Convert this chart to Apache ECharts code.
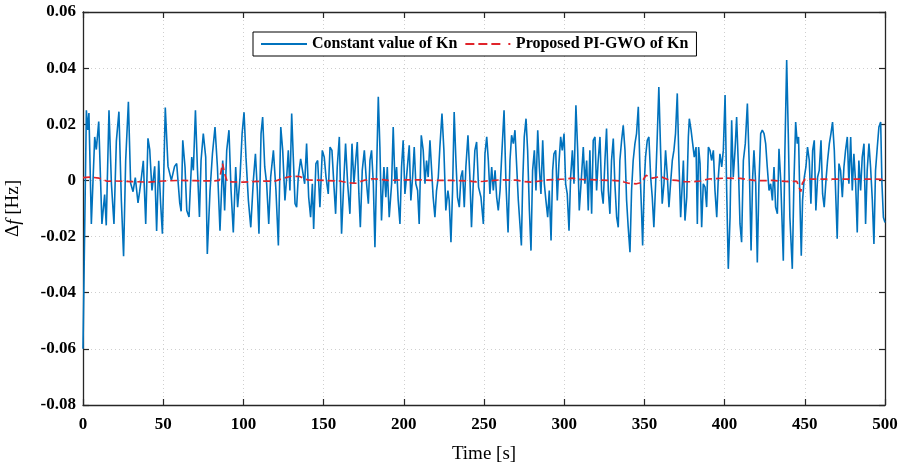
<!DOCTYPE html>
<html><head><meta charset="utf-8">
<script src="https://cdn.jsdelivr.net/npm/echarts@6/dist/echarts.min.js"></script>
<style>html,body{margin:0;padding:0;background:#fff}#c{width:904px;height:468px}</style>
</head><body><div id="c"></div>
<script>
// Constant value of Kn  (time [s], delta f [Hz])
const blueTime = [0,2.1,3.0,3.7,5.2,7.3,8.3,9.8,11.8,13.5,14.5,16.2,17.7,19.3,20.8,22.4,23.9,25.3,26.6,28.3,29.7,31.2,32.6,34.3,35.3,36.4,37.6,39.1,40.5,41.6,43,44.7,45.9,47.2,48.4,49.5,51.3,53,55.1,57.1,58.4,60.3,61.2,62.2,63.6,64.7,66.1,67.8,68.8,70.1,71.3,72.6,73.6,75.0,76.5,77.5,79.2,80.7,82.3,83.8,85.4,87.1,88.3,89.6,91.0,92.3,93.7,95.2,96.4,97.9,99.2,100.4,101.6,103.1,104.6,106.2,107.5,108.7,109.7,111.0,112.0,113.3,114.5,115.8,117.0,118.7,120.3,121.8,123.3,124.5,125.9,127.0,128.0,129.0,130.1,131.1,132.2,133.2,134.2,135.7,136.9,138.2,139.4,140.7,141.9,143.0,143.8,145.2,146.3,147.7,149.2,150.4,151.5,152.9,154.0,155.2,156.5,157.5,158.5,159.8,161.2,162.7,163.7,165.0,166.4,167.7,168.9,170.0,171.0,172.0,172.9,174.1,175.4,176.8,177.9,178.9,179.9,181.0,182.0,183.1,184.1,185.1,186.1,187.6,188.8,189.7,190.9,192.4,193.4,194.5,195.5,196.5,197.6,198.6,199.6,200.7,201.7,203.4,204.4,205.5,206.5,207.5,208.6,209.6,210.9,212.1,213.2,214.2,215.2,216.3,217.3,218.3,219.4,220.4,221.5,222.5,223.8,225.0,226.2,227.5,228.3,229.4,230.4,231.4,232.5,233.5,234.6,235.6,236.6,237.7,238.7,240.0,241.2,242.2,243.3,244.3,245.4,246.6,248.1,249.6,250.6,251.7,252.7,253.7,254.8,255.8,256.9,257.9,258.9,260.0,261.0,262.5,263.7,265.0,266.2,267.2,268.3,269.3,270.4,271.4,272.4,273.3,274.1,275.1,276.2,277.2,278.3,279.3,280.3,281.4,282.4,283.5,284.5,285.5,286.6,287.6,288.6,289.7,290.7,291.8,292.8,293.6,294.7,295.7,296.7,297.8,298.8,299.9,300.9,301.9,303.0,304.0,305.1,306.1,307.3,308.4,309.4,310.5,311.9,312.9,314.0,315.0,316.0,317.1,318.1,319.2,320.2,321.2,322.3,323.3,324.3,325.4,326.4,327.5,328.5,329.5,330.6,331.6,332.7,333.7,334.7,335.8,336.8,337.9,338.9,339.9,341.0,342.0,343.0,344.1,345.1,346.2,347.2,348.2,348.9,349.9,350.7,351.8,352.8,353.9,354.9,355.9,357.0,358.0,359.0,360.1,361.1,362.2,363.2,364.2,365.3,366.3,367.4,368.4,369.4,370.5,371.5,372.6,374.3,375.3,376.4,377.4,378.0,379.1,380.1,381.1,382.2,383.0,383.8,384.7,385.7,386.7,387.8,388.8,389.9,390.9,391.9,393.0,394.0,395.1,396.1,397.1,398.2,399.2,400.3,401.3,402.3,403.4,404.4,405.4,406.5,407.5,408.6,409.6,410.6,411.7,412.9,414.2,415.4,416.5,417.5,418.3,419.4,420.4,421.4,422.5,423.5,424.6,425.6,426.6,427.7,428.7,429.8,430.8,431.8,432.9,433.9,435.0,436.6,437.6,438.7,439.7,440.7,442.2,443.2,444.3,445.3,446.1,447.0,447.8,448.6,449.7,450.7,451.7,452.8,453.8,454.9,455.9,456.9,458.0,459.0,460.1,461.1,462.1,463.2,464.2,465.3,466.3,467.3,468.4,469.4,470.2,471.3,472.3,473.4,474.4,475.4,476.5,477.5,478.6,479.6,480.6,481.7,482.7,483.7,484.8,485.8,486.9,487.9,488.9,490.0,491.0,492.1,493.1,494.1,495.2,496.2,497.3,498.1,499.0,500];
const blueValue = [-0.060,0.025,0.018,0.024,-0.0155,0.0155,0.011,0.021,-0.0155,-0.005,-0.016,0.025,-0.001,-0.0155,0.014,0.0245,-0.007,-0.027,0.007,0.028,-0.001,-0.004,0.001,-0.008,-0.004,0.001,0.007,-0.0155,0.015,0.011,-0.0036,0.005,-0.018,0.007,-0.0083,-0.019,0.026,0.005,0,0.005,0.006,-0.008,-0.011,0.0143,0.0048,-0.0107,-0.013,0.0083,0.0036,0.025,0.0048,-0.013,0.0071,0.0167,0.0083,-0.0262,-0.0036,0.0095,0.019,0.0048,-0.0179,0.0071,-0.0107,0.0107,0.0179,-0.0036,-0.0185,0.0048,-0.0095,0.0012,0.0167,0.0243,0.0083,-0.0071,-0.0167,0,0.0095,-0.0036,-0.019,0.0167,0.0226,0.0048,-0.0012,-0.0155,0.0012,0.0107,-0.0036,-0.0232,0.019,0.0107,-0.0071,0.0012,0.0107,-0.0036,0.0238,0.0083,-0.0083,-0.0095,0.0012,0.0077,0.0071,-0.0012,0.0131,-0.006,-0.0131,-0.0012,-0.0173,0.006,0.0071,-0.0095,0.0107,0.0083,0.0012,-0.0048,0.0119,0.0107,-0.0024,-0.0119,0.0048,0.0155,-0.019,0.0012,0.0131,-0.0012,-0.0119,0.0131,-0.0012,0.0071,0.0137,-0.0048,-0.0167,0.0036,0.0107,-0.0012,-0.0083,0.0071,0.0107,-0.0012,-0.0238,0.0048,0.0298,0.0119,-0.0143,0.0048,-0.006,0.0048,-0.0131,-0.0012,0.019,-0.0012,0.0048,-0.0071,-0.0155,0.0048,0.0143,-0.0048,0.0012,0.0125,-0.0071,0.0012,0.0119,-0.0012,-0.0036,-0.0155,0.0161,0.0107,-0.0012,0.0071,0.0012,0.0143,0.0149,-0.006,-0.0131,-0.0036,0.0012,0.0119,0.0238,0.0107,-0.0107,-0.0036,-0.0071,-0.022,-0.0036,0.0244,0.0071,-0.006,-0.0095,0.0012,0.0036,-0.0095,0.0048,0.0161,0.0012,-0.0167,-0.0012,0.0107,0.0137,-0.0024,-0.006,-0.0155,0.0095,0.0155,0.0071,-0.0048,0.0048,-0.0036,0.0036,-0.006,-0.0107,-0.0036,0.0083,0.025,-0.0012,-0.0185,0.0071,0.0161,0.0131,0.0179,0.0048,-0.0071,-0.0155,-0.0232,-0.0012,0.0155,0.022,0.0107,-0.0107,-0.025,0.0036,0.0107,-0.0036,0.0179,0.0048,-0.0048,0.0143,-0.0012,-0.0071,-0.0131,-0.0036,-0.0214,0.0036,0.0095,0.0107,-0.0071,0.006,0.0155,0.0107,0.0167,-0.0012,-0.0048,-0.0179,0.0012,0.0107,-0.0012,0.0268,0.0107,-0.0107,-0.0012,0.0119,-0.0012,0.0071,-0.0107,0.0107,-0.0119,0.0143,0.0155,-0.0036,0.0071,0.0155,-0.0036,-0.0083,0.0071,0.0185,-0.0036,-0.0119,0.0071,0.0149,-0.0012,-0.0131,-0.0167,0.0071,0.0143,0.0196,0.0107,-0.0071,-0.0167,-0.0256,-0.0036,0.0071,0.0131,0.0167,0.0262,0.0048,-0.0107,-0.0232,-0.0012,0.0083,0.0143,0.0155,0.0012,-0.006,-0.0167,-0.0012,0.0155,0.0333,0.0107,-0.0083,-0.0012,0.0107,0.0024,-0.0095,-0.0012,0.0071,0.0107,0.0167,0.031,0.0071,-0.0131,0.0071,-0.0143,-0.006,0.0155,0.022,0.0179,0.0185,0.0083,0.0119,-0.0155,0.0119,0.006,-0.0167,-0.0012,-0.0024,-0.0095,0.0119,0.0107,0.0071,0.0107,-0.0036,-0.0131,0.0012,0.0095,0.0048,0.0107,0.0304,-0.0036,-0.0315,-0.0131,0.0214,0.0012,0.0107,0.0226,0.0048,-0.0155,-0.022,0.0071,0.0131,0.0274,0.0048,-0.025,0.0012,0.0107,-0.0012,-0.0292,-0.0012,0.0167,0.0179,0.0167,0.0131,0.0048,-0.0036,-0.0012,-0.0071,0.0048,-0.0095,-0.0119,0.0113,0,-0.0286,0.0107,0.0429,0.0167,-0.0131,-0.0315,-0.0012,0.0208,0.0131,0.0155,-0.0083,-0.0268,-0.0071,0.0012,0.0048,0.0119,0.0071,-0.0083,0.0107,0.0143,-0.0107,0.0012,0.0036,0.0143,-0.0048,-0.0095,0,0.0071,0.0131,0.0167,0.0208,0.0107,-0.0071,-0.0208,0.006,0.0036,-0.006,0.0048,0.0107,0.0155,-0.0012,0.0155,-0.0036,0.0095,-0.0012,-0.0185,0.0071,-0.0036,0.0083,0.0131,-0.0155,0.0036,0.0131,0.0048,-0.0071,-0.0226,0.0036,0.0119,0.019,0.0208,-0.0012,-0.0131,-0.015];

// Proposed PI-GWO of Kn
const redTime = [0,5,10,15,20,30,40,50,60,70,80,85,87,88.5,90,100,110,120,125,130,135,140,150,160,165,170,175,180,185,190,200,210,220,230,240,245,250,260,270,275,280,285,290,300,305,310,320,330,335,340,345,348,351,355,360,365,370,375,380,385,390,400,410,415,420,430,440,445,447.5,448.5,450,460,480,500];
const redValue = [0.001,0.0012,0.0008,-0.0003,-0.0002,-0.0004,-0.0006,-0.0002,0,-0.0001,-0.0002,0,0.006,0.002,-0.0005,-0.0006,-0.0003,-0.0002,0.0008,0.0015,0.0014,0.0002,0,-0.0002,-0.0008,-0.001,0,0.0006,0.0004,0,0.0002,0.0002,0,0,-0.0002,-0.0005,-0.0003,0.0002,0.0001,-0.0004,-0.0006,-0.0002,0.0002,0.0005,0.0008,0.0004,0.0002,0,-0.0002,-0.001,-0.0012,-0.0008,0.0018,0.0008,0.0014,0.0002,0,-0.0004,-0.0005,-0.0002,0.0005,0.0008,0.0007,0.0003,-0.0001,0,-0.0004,-0.0003,-0.004,-0.001,0.0004,0.0005,0.0005,0.0004];

const seriesNames = ['Constant value of Kn', 'Proposed PI-GWO of Kn'];
const xTicks = [0,50,100,150,200,250,300,350,400,450,500];
const yTickLabels = ['-0.08','-0.06','-0.04','-0.02','0','0.02','0.04','0.06'];

const blueData = blueTime.map((t, i) => [t, blueValue[i]]);
const redData = redTime.map((t, i) => [t, redValue[i]]);

const FONT = '"Liberation Serif", "Times New Roman", serif';
const AX = '#262626';
const BLUE = '#0072BD', RED = '#e0242a';
const yMin = parseFloat(yTickLabels[0]), yMax = parseFloat(yTickLabels[yTickLabels.length - 1]);
const yStep = parseFloat(yTickLabels[1]) - yMin;
const yLabel = v => { const f = yTickLabels.find(s => Math.abs(parseFloat(s) - v) < 1e-9); return f || ''; };

const chart = echarts.init(document.getElementById('c'), null, { renderer: 'canvas' });
const lineAx = { show: true, onZero: false, lineStyle: { color: AX, width: 1.3 } };
const tickAx = { show: true, inside: true, length: 6, lineStyle: { color: AX, width: 1.2 } };
const gridLine = { show: true, lineStyle: { color: '#cfcfcf', type: [1, 3], width: 1 } };
const frameAxis = { axisLine: lineAx, axisTick: tickAx, axisLabel: { show: false }, splitLine: { show: false } };
chart.setOption({
  animation: false,
  backgroundColor: '#fff',
  grid: { left: 83, right: 19, top: 12, bottom: 63, containLabel: false, outerBoundsMode: 'none' },
  legend: {
    left: 253, top: 32,
    itemWidth: 46, itemHeight: 2, itemGap: 8,
    padding: [4, 8, 4, 8],
    borderColor: '#000', borderWidth: 1, backgroundColor: '#fff',
    textStyle: { fontFamily: FONT, fontWeight: 'bold', fontSize: 16, color: '#000' },
    data: [
      { name: seriesNames[0], icon: 'path://M0,0H46V2H0Z' },
      { name: seriesNames[1], icon: 'path://M0,0H9V2H0Z M13,0H22V2H13Z M26,0H35V2H26Z M43,0H45V2H43Z' }
    ]
  },
  xAxis: [{
    type: 'value', min: xTicks[0], max: xTicks[xTicks.length - 1], interval: xTicks[1] - xTicks[0],
    name: 'Time [s]', nameLocation: 'middle', nameGap: 40,
    nameTextStyle: { fontFamily: FONT, fontSize: 19, color: '#000' },
    axisLine: lineAx, axisTick: tickAx,
    axisLabel: { fontFamily: FONT, fontWeight: 'bold', fontSize: 17, color: '#000', margin: 11 },
    splitLine: gridLine
  }, Object.assign({
    type: 'value', position: 'top', min: xTicks[0], max: xTicks[xTicks.length - 1], interval: xTicks[1] - xTicks[0]
  }, frameAxis)],
  yAxis: [{
    type: 'value', min: yMin, max: yMax, interval: yStep,
    name: '{a|Δ}{i|f}{a| [Hz]}', nameLocation: 'middle', nameGap: 60, nameRotate: 90,
    nameTextStyle: {
      fontFamily: FONT, fontSize: 19, color: '#000',
      rich: {
        a: { fontFamily: FONT, fontSize: 19, color: '#000' },
        i: { fontFamily: FONT, fontSize: 19, fontStyle: 'italic', color: '#000' }
      }
    },
    axisLine: lineAx, axisTick: tickAx,
    axisLabel: { fontFamily: FONT, fontWeight: 'bold', fontSize: 17, color: '#000', margin: 7, formatter: yLabel },
    splitLine: gridLine
  }, Object.assign({
    type: 'value', position: 'right', min: yMin, max: yMax, interval: yStep
  }, frameAxis)],
  series: [{
    name: seriesNames[0], type: 'line', data: blueData, showSymbol: false, symbol: 'none',
    xAxisIndex: 0, yAxisIndex: 0,
    lineStyle: { color: BLUE, width: 1.6 }, itemStyle: { color: BLUE }
  }, {
    name: seriesNames[1], type: 'line', data: redData, showSymbol: false, symbol: 'none',
    xAxisIndex: 0, yAxisIndex: 0, z: 3,
    lineStyle: { color: RED, width: 1.7, type: [7, 4] }, itemStyle: { color: RED }
  }]
});
</script>
</body></html>
